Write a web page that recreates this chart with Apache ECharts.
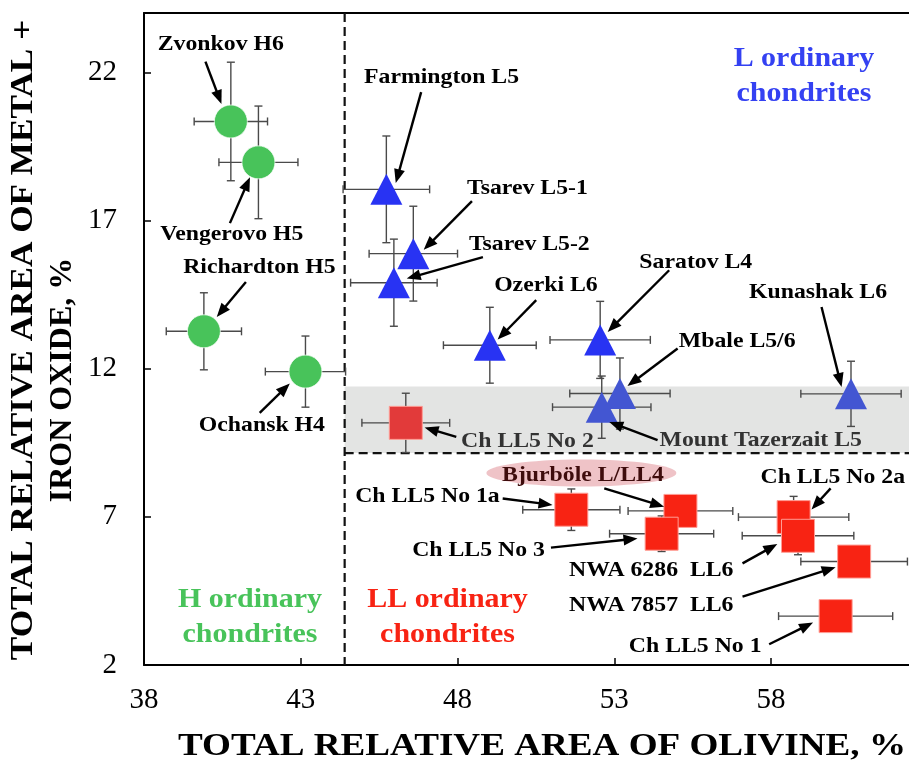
<!DOCTYPE html>
<html><head><meta charset="utf-8">
<script src="https://cdn.jsdelivr.net/npm/echarts@6/dist/echarts.min.js"></script>
<style>html,body{margin:0;padding:0;background:#fff}#c{width:909px;height:761px}</style>
</head><body><div id="c"></div>
<script>
// ---------- axis ranges & ticks ----------
const xMin = 38, xMax = 62.4, xStep = 5;
const yMin = 2, yMax = 24, yStep = 5;
const xTitle = 'TOTAL RELATIVE AREA OF OLIVINE, %';
const yTitle1 = 'TOTAL RELATIVE AREA OF METAL +';
const yTitle2 = 'IRON OXIDE, %';

// ---------- H ordinary chondrites ----------
const hNames = ['Zvonkov H6', 'Vengerovo H5', 'Richardton H5', 'Ochansk H4'];
const hX = [40.77, 41.65, 39.91, 43.15];
const hY = [20.34, 18.96, 13.26, 11.90];
const hXErr = [1.17, 1.26, 1.20, 1.28];
const hYErr = [2.00, 1.90, 1.30, 1.20];

// ---------- L ordinary chondrites ----------
const lNames = ['Farmington L5', 'Tsarev L5-1', 'Tsarev L5-2', 'Ozerki L6', 'Saratov L4', 'Mount Tazerzait L5', 'Mbale L5/6', 'Kunashak L6'];
const lX = [45.73, 46.59, 45.97, 49.03, 52.55, 52.60, 53.18, 60.55];
const lY = [18.05, 15.88, 14.90, 12.79, 12.97, 10.70, 11.16, 11.15];
const lXErr = [1.38, 1.41, 1.38, 1.48, 1.60, 1.57, 1.60, 1.60];
const lYErr = [1.80, 1.60, 1.47, 1.28, 1.30, 1.05, 1.20, 1.10];

// ---------- LL ordinary chondrites ----------
const llNames = ['Ch LL5 No 2', 'Ch LL5 No 1a', 'Bjurböle L/LL4', 'Ch LL5 No 3', 'Ch LL5 No 2a', 'NWA 6286  LL6', 'NWA 7857  LL6', 'Ch LL5 No 1'];
const llX = [46.35, 51.63, 55.11, 54.51, 58.72, 58.86, 60.65, 60.06];
const llY = [10.17, 7.24, 7.20, 6.43, 6.99, 6.36, 5.49, 3.65];
const llXErr = [1.40, 1.55, 1.67, 1.66, 1.76, 1.78, 1.70, 1.82];
const llYErr = [1.00, 0.70, 0.35, 0.60, 0.70, 0.64, 0.00, 0.00];

// ---------- region boundaries ----------
const hBoundaryX = 44.4;          // vertical dashed line
const llBoundaryY = 9.15;         // horizontal dashed line
const bandTopY = 11.4;            // grey band top

// ---------- annotations (data units) ----------
const annText = ['Zvonkov H6', 'Vengerovo H5', 'Richardton H5', 'Ochansk H4',
  'Farmington L5', 'Tsarev L5-1', 'Tsarev L5-2', 'Ozerki L6', 'Saratov L4', 'Kunashak L6', 'Mbale L5/6', 'Mount Tazerzait L5',
  'Ch LL5 No 2', 'Bjurböle L/LL4', 'Ch LL5 No 1a', 'Ch LL5 No 3', 'Ch LL5 No 2a', 'NWA 6286  LL6', 'NWA 7857  LL6', 'Ch LL5 No 1'];
const annX = [40.45, 40.80, 41.68, 41.76, 47.49, 50.23, 50.29, 50.82, 55.60, 59.50, 56.92, 57.67, 50.23, 52.00, 47.04, 48.67, 59.97, 54.18, 54.18, 55.58];
const annY = [22.93, 16.53, 15.42, 10.09, 21.83, 18.08, 16.21, 14.81, 15.59, 14.56, 12.92, 9.59, 9.55, 8.41, 7.70, 5.88, 8.34, 5.21, 4.03, 2.62];
const arrFromX = [39.96, 40.74, 41.25, 41.69, 46.84, 48.46, 48.81, 50.51, 54.75, 59.61, 55.02, 54.38, 47.96, 52.68, 49.44, 50.98, 59.90, 57.09, 57.09, 57.94];
const arrFromY = [22.36, 16.91, 14.92, 10.51, 21.33, 17.65, 15.76, 14.31, 15.32, 14.08, 12.68, 9.59, 9.70, 7.96, 7.62, 5.96, 7.96, 5.43, 4.31, 2.70];
const arrToX = [40.47, 41.38, 40.32, 42.65, 46.03, 46.92, 46.38, 49.28, 52.79, 60.25, 53.42, 52.84, 46.95, 54.59, 51.03, 53.74, 59.29, 58.20, 60.06, 59.34];
const arrToY = [20.93, 18.46, 13.74, 11.50, 18.26, 16.01, 15.04, 12.98, 13.24, 11.38, 11.41, 10.20, 10.01, 7.34, 7.40, 6.27, 7.25, 6.08, 5.30, 3.43];

// ---------- group labels ----------
const groupText = ['L ordinary\nchondrites', 'H ordinary\nchondrites', 'LL ordinary\nchondrites'];
const groupX = [59.05, 41.38, 47.68];
const groupY = [21.86, 3.62, 3.62];

// ================= drawing =================
const FONT = '"Liberation Serif", "Times New Roman", serif';
const GREEN = '#48c35a', BLUE = '#2833f3', RED = '#f82313';
const BLUE_BAND = '#4356d2', RED_BAND = '#e23a3a';
const inBand = (x, y) => x > hBoundaryX && y > llBoundaryY && y < bandTopY;

function pts(xs, ys, base, muted) {
  return xs.map((x, i) => {
    const item = { value: [x, ys[i]] };
    if (inBand(x, ys[i])) item.itemStyle = { color: muted };
    return item;
  });
}
const errData = [];
[[hX, hY, hXErr, hYErr], [lX, lY, lXErr, lYErr], [llX, llY, llXErr, llYErr]].forEach(([xs, ys, ex, ey]) => {
  xs.forEach((x, i) => errData.push([x, ys[i], ex[i], ey[i]]));
});

const chart = echarts.init(document.getElementById('c'), null, { renderer: 'canvas' });

function errRender(params, api) {
  const x = api.value(0), y = api.value(1), ex = api.value(2), ey = api.value(3);
  const cap = 4;
  const l = api.coord([x - ex, y]), r = api.coord([x + ex, y]);
  const st = { stroke: '#4a4a4a', lineWidth: 1.4 };
  const ch = [
    { type: 'line', shape: { x1: l[0], y1: l[1], x2: r[0], y2: r[1] }, style: st },
    { type: 'line', shape: { x1: l[0], y1: l[1] - cap, x2: l[0], y2: l[1] + cap }, style: st },
    { type: 'line', shape: { x1: r[0], y1: r[1] - cap, x2: r[0], y2: r[1] + cap }, style: st }
  ];
  if (ey > 0) {
    const t = api.coord([x, y + ey]), b = api.coord([x, y - ey]);
    ch.push({ type: 'line', shape: { x1: t[0], y1: t[1], x2: b[0], y2: b[1] }, style: st });
    ch.push({ type: 'line', shape: { x1: t[0] - cap, y1: t[1], x2: t[0] + cap, y2: t[1] }, style: st });
    ch.push({ type: 'line', shape: { x1: b[0] - cap, y1: b[1], x2: b[0] + cap, y2: b[1] }, style: st });
  }
  return { type: 'group', children: ch };
}

function arrowRender(params, api) {
  const p1 = api.coord([api.value(0), api.value(1)]);
  const p2 = api.coord([api.value(2), api.value(3)]);
  const dx = p2[0] - p1[0], dy = p2[1] - p1[1];
  const len = Math.sqrt(dx * dx + dy * dy);
  const ux = dx / len, uy = dy / len;
  const hl = 14, hw = 5.5;
  const bx = p2[0] - ux * hl, by = p2[1] - uy * hl;
  return {
    type: 'group', children: [
      { type: 'line', shape: { x1: p1[0], y1: p1[1], x2: bx + ux * 2, y2: by + uy * 2 }, style: { stroke: '#000', lineWidth: 2.4 } },
      { type: 'polygon', shape: { points: [[p2[0], p2[1]], [bx - uy * hw, by + ux * hw], [bx + uy * hw, by - ux * hw]] }, style: { fill: '#000' } }
    ]
  };
}

function annColor(txt) {
  if (txt === 'Mount Tazerzait L5' || txt === 'Ch LL5 No 2') return '#333333';
  if (txt === 'Bjurböle L/LL4') return '#3e0c0c';
  return '#000';
}

function textRender(params, api) {
  const i = params.dataIndex;
  const p = api.coord([annX[i], annY[i]]);
  return {
    type: 'text', x: p[0], y: p[1], scaleX: 1.08, scaleY: 1,
    style: { text: annText[i], fill: annColor(annText[i]), fontSize: 22, fontWeight: 'bold', fontFamily: FONT, align: 'center', verticalAlign: 'middle' }
  };
}

function groupRender(params, api) {
  const i = params.dataIndex;
  const p = api.coord([groupX[i], groupY[i]]);
  const col = [ '#3441f2', GREEN, RED ][i];
  return {
    type: 'text', x: p[0], y: p[1], scaleX: 1.07,
    style: { text: groupText[i], fill: col, fontSize: 28, fontWeight: 'bold', fontFamily: FONT, align: 'center', verticalAlign: 'middle', lineHeight: 35 }
  };
}

function ellipseRender(params, api) {
  const idx = annText.indexOf('Bjurböle L/LL4');
  const p = api.coord([annX[idx] - 0.05, annY[idx] + 0.07]);
  return { type: 'ellipse', shape: { cx: p[0], cy: p[1], rx: 95, ry: 13.5 }, style: { fill: '#efc3c7' } };
}

function bandRender(params, api) {
  const a = api.coord([hBoundaryX, bandTopY]);
  const b = api.coord([xMax, llBoundaryY]);
  return { type: 'rect', shape: { x: a[0], y: a[1], width: b[0] - a[0], height: b[1] - a[1] }, style: { fill: '#e3e4e3' } };
}

function dividerRender(params, api) {
  const v1 = api.coord([hBoundaryX, yMax]), v2 = api.coord([hBoundaryX, yMin]);
  const h1 = api.coord([hBoundaryX, llBoundaryY]), h2 = api.coord([xMax, llBoundaryY]);
  const st = { stroke: '#111', lineWidth: 2.2, lineDash: [9, 5] };
  return {
    type: 'group', children: [
      { type: 'line', shape: { x1: v1[0], y1: v1[1], x2: v2[0], y2: v2[1] }, style: st },
      { type: 'line', shape: { x1: h1[0], y1: h1[1], x2: h2[0], y2: h2[1] }, style: st }
    ]
  };
}

const axisBase = {
  axisLine: { show: true, lineStyle: { color: '#000', width: 2 } },
  axisTick: { show: true, inside: true, length: 7, lineStyle: { color: '#000', width: 1.5 } },
  splitLine: { show: false },
  axisLabel: { color: '#000', fontSize: 29, fontFamily: FONT, showMaxLabel: false }
};

chart.setOption({
  animation: false,
  backgroundColor: '#fff',
  grid: { left: 144, right: 0, top: 13, bottom: 96, containLabel: false },
  xAxis: [
    Object.assign({}, axisBase, { type: 'value', min: xMin, max: xMax, interval: xStep, position: 'bottom',
      axisLabel: Object.assign({}, axisBase.axisLabel, { margin: 21 }) }),
    { type: 'value', min: xMin, max: xMax, position: 'top', axisLine: { show: true, onZero: false, lineStyle: { color: '#000', width: 2 } },
      axisTick: { show: false }, axisLabel: { show: false }, splitLine: { show: false } }
  ],
  yAxis: Object.assign({}, axisBase, { type: 'value', min: yMin, max: yMax, interval: yStep,
    axisLabel: Object.assign({}, axisBase.axisLabel, { margin: 27 }) }),
  graphic: [
    { type: 'text', x: 542, y: 747, scaleX: 1.16, style: { text: xTitle, fill: '#000', fontSize: 32, fontWeight: 'bold', fontFamily: FONT, align: 'center', verticalAlign: 'middle' } },
    { type: 'text', x: 24, y: 340, rotation: Math.PI / 2, scaleX: 1.1, style: { text: yTitle1, fill: '#000', fontSize: 32, fontWeight: 'bold', fontFamily: FONT, align: 'center', verticalAlign: 'middle' } },
    { type: 'text', x: 63, y: 380, rotation: Math.PI / 2, scaleX: 1.0, style: { text: yTitle2, fill: '#000', fontSize: 32, fontWeight: 'bold', fontFamily: FONT, align: 'center', verticalAlign: 'middle' } }
  ],
  series: [
    { type: 'custom', name: 'band', renderItem: bandRender, data: [[hBoundaryX, llBoundaryY]], z: 1, silent: true, clip: false },
    { type: 'custom', name: 'dividers', renderItem: dividerRender, data: [[hBoundaryX, llBoundaryY]], z: 2, silent: true, clip: false },
    { type: 'custom', name: 'ellipse', renderItem: ellipseRender, data: [[0, 0]], z: 2, silent: true, clip: false },
    { type: 'custom', name: 'errors', renderItem: errRender, data: errData, z: 3, silent: true, clip: false },
    { type: 'scatter', name: 'H', data: pts(hX, hY, GREEN, GREEN), symbol: 'circle', symbolSize: 33, z: 4,
      itemStyle: { color: GREEN, borderColor: 'rgba(255,255,255,0.7)', borderWidth: 1, opacity: 1 } },
    { type: 'scatter', name: 'L', data: pts(lX, lY, BLUE, BLUE_BAND), symbol: 'triangle', symbolSize: [32, 31], z: 4,
      itemStyle: { color: BLUE, opacity: 1 } },
    { type: 'scatter', name: 'LL', data: pts(llX, llY, RED, RED_BAND), symbol: 'rect', symbolSize: 33, z: 4,
      itemStyle: { color: RED, borderColor: '#ff9c94', borderWidth: 1, opacity: 1 } },
    { type: 'custom', name: 'arrows', renderItem: arrowRender,
      data: arrFromX.map((x, i) => [x, arrFromY[i], arrToX[i], arrToY[i]]), z: 5, silent: true, clip: false },
    { type: 'custom', name: 'labels', renderItem: textRender, data: annX.map((x, i) => [x, annY[i]]), z: 6, silent: true, clip: false },
    { type: 'custom', name: 'groups', renderItem: groupRender, data: groupX.map((x, i) => [x, groupY[i]]), z: 6, silent: true, clip: false }
  ]
});
</script></body></html>
